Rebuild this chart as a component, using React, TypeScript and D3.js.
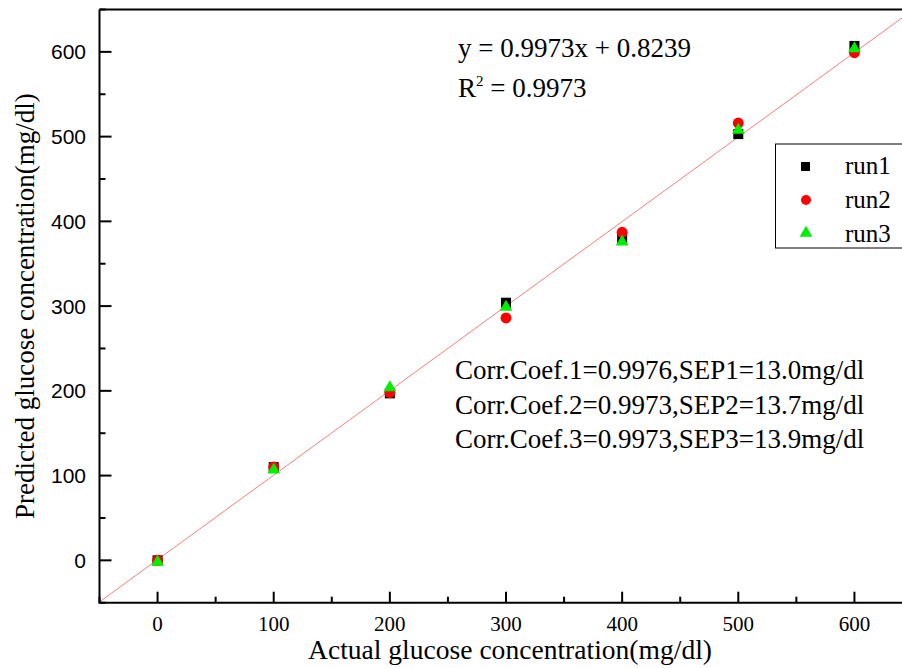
import React from "react";
import * as d3 from "d3";

// Actual glucose levels (mg/dl) and predictions for three runs
const actual = [0, 100, 200, 300, 400, 500, 600];
const run1 = [0, 110, 197, 304, 380, 503, 607];
const run2 = [0, 110, 198, 286, 387, 516, 599];
const run3 = [-1, 108, 205, 300, 377, 509, 605];
const xTicks = [0, 100, 200, 300, 400, 500, 600];
const yTicks = [0, 100, 200, 300, 400, 500, 600];
const slope = 0.9973;
const intercept = 0.8239;
const statLines = [
  "Corr.Coef.1=0.9976,SEP1=13.0mg/dl",
  "Corr.Coef.2=0.9973,SEP2=13.7mg/dl",
  "Corr.Coef.3=0.9973,SEP3=13.9mg/dl",
];

const W = 902;
const H = 668;
const left = 99.5;
const top = 9.5;
const bottom = 602.7;
const right = 912.5;

const serif = "'Liberation Serif', 'Times New Roman', serif";
const sans = "'Liberation Sans', Arial, sans-serif";

export default function App() {
  const x = d3.scaleLinear().domain([-50, 650]).range([left, right]);
  const y = d3.scaleLinear().domain([-50, 650]).range([bottom, top]);
  const minor = d3.range(-50, 651, 50).filter((v) => v % 100 !== 0);

  const tri = d3.symbol().type(d3.symbolTriangle).size(70)();

  return (
    <svg
      width={W}
      height={H}
      style={{ position: "absolute", left: 0, top: 0, background: "#fff" }}
    >
      <defs>
        <clipPath id="plot">
          <rect x={left} y={top} width={right - left} height={bottom - top} />
        </clipPath>
      </defs>

      {/* fit line */}
      <g clipPath="url(#plot)">
        <line
          x1={x(-50)}
          y1={y(slope * -50 + intercept)}
          x2={x(650)}
          y2={y(slope * 650 + intercept)}
          stroke="#f08080"
          strokeWidth={1}
        />
      </g>

      {/* run1 squares */}
      {actual.map((a, i) => (
        <rect
          key={"r1" + i}
          x={x(a) - 5}
          y={y(run1[i]) - 5}
          width={10}
          height={10}
          fill="#000"
        />
      ))}
      {/* run2 circles */}
      {actual.map((a, i) => (
        <circle key={"r2" + i} cx={x(a)} cy={y(run2[i])} r={5.5} fill="#ff0000" />
      ))}
      {/* run3 triangles */}
      {actual.map((a, i) => (
        <path
          key={"r3" + i}
          d={tri}
          transform={`translate(${x(a)},${y(run3[i]) + 1})`}
          fill="#00ee00"
        />
      ))}

      {/* frame */}
      <line x1={left} y1={top} x2={W} y2={top} stroke="#000" strokeWidth={2} />
      <line x1={left} y1={top} x2={left} y2={bottom} stroke="#000" strokeWidth={2} />
      <line x1={left - 1} y1={bottom} x2={W} y2={bottom} stroke="#000" strokeWidth={2} />

      {/* x ticks */}
      {xTicks.map((t) => (
        <g key={"xt" + t}>
          <line x1={x(t)} x2={x(t)} y1={bottom} y2={bottom - 11} stroke="#000" strokeWidth={2} />
          <text
            x={x(t)}
            y={631}
            textAnchor="middle"
            fontFamily={serif}
            fontSize={21}
            fill="#000"
          >
            {t}
          </text>
        </g>
      ))}
      {minor.map((t) => (
        <line key={"xm" + t} x1={x(t)} x2={x(t)} y1={bottom} y2={bottom - 6} stroke="#000" strokeWidth={2} />
      ))}

      {/* y ticks */}
      {yTicks.map((t) => (
        <g key={"yt" + t}>
          <line x1={left} x2={left + 12} y1={y(t)} y2={y(t)} stroke="#000" strokeWidth={2} />
          <text
            x={86}
            y={y(t)}
            dy="0.36em"
            textAnchor="end"
            fontFamily={sans}
            fontSize={21}
            fill="#000"
          >
            {t}
          </text>
        </g>
      ))}
      {minor.map((t) => (
        <line key={"ym" + t} x1={left} x2={left + 6} y1={y(t)} y2={y(t)} stroke="#000" strokeWidth={2} />
      ))}

      {/* axis titles */}
      <text
        x={510}
        y={659}
        textAnchor="middle"
        fontFamily={serif}
        fontSize={27}
        textLength={404}
        lengthAdjust="spacingAndGlyphs"
        fill="#000"
      >
        Actual glucose concentration(mg/dl)
      </text>
      <text
        transform={`translate(34,${(top + bottom) / 2}) rotate(-90)`}
        textAnchor="middle"
        fontFamily={serif}
        fontSize={27}
        fill="#000"
      >
        Predicted glucose concentration(mg/dl)
      </text>

      {/* regression annotation */}
      <text x={458} y={57} fontFamily={serif} fontSize={27} fill="#000">
        {`y = ${slope}x + ${intercept}`}
      </text>
      <text x={458} y={97} fontFamily={serif} fontSize={27} fill="#000">
        R
        <tspan dy={-11} fontSize={15}>2</tspan>
        <tspan dy={11}>{` = ${slope}`}</tspan>
      </text>

      {statLines.map((s, i) => (
        <text key={s} x={455} y={379 + i * 34.5} fontFamily={serif} fontSize={27} fill="#000">
          {s}
        </text>
      ))}

      {/* legend */}
      <rect x={775.5} y={144} width={140} height={104} fill="#fff" stroke="#000" strokeWidth={1} />
      <rect x={801} y={162} width={9} height={9} fill="#000" />
      <text x={845} y={174} fontFamily={serif} fontSize={25} fill="#000">run1</text>
      <circle cx={806} cy={200} r={5} fill="#ff0000" />
      <text x={845} y={208} fontFamily={serif} fontSize={25} fill="#000">run2</text>
      <path d={tri} transform="translate(806,233)" fill="#00ee00" />
      <text x={845} y={242} fontFamily={serif} fontSize={25} fill="#000">run3</text>
    </svg>
  );
}
